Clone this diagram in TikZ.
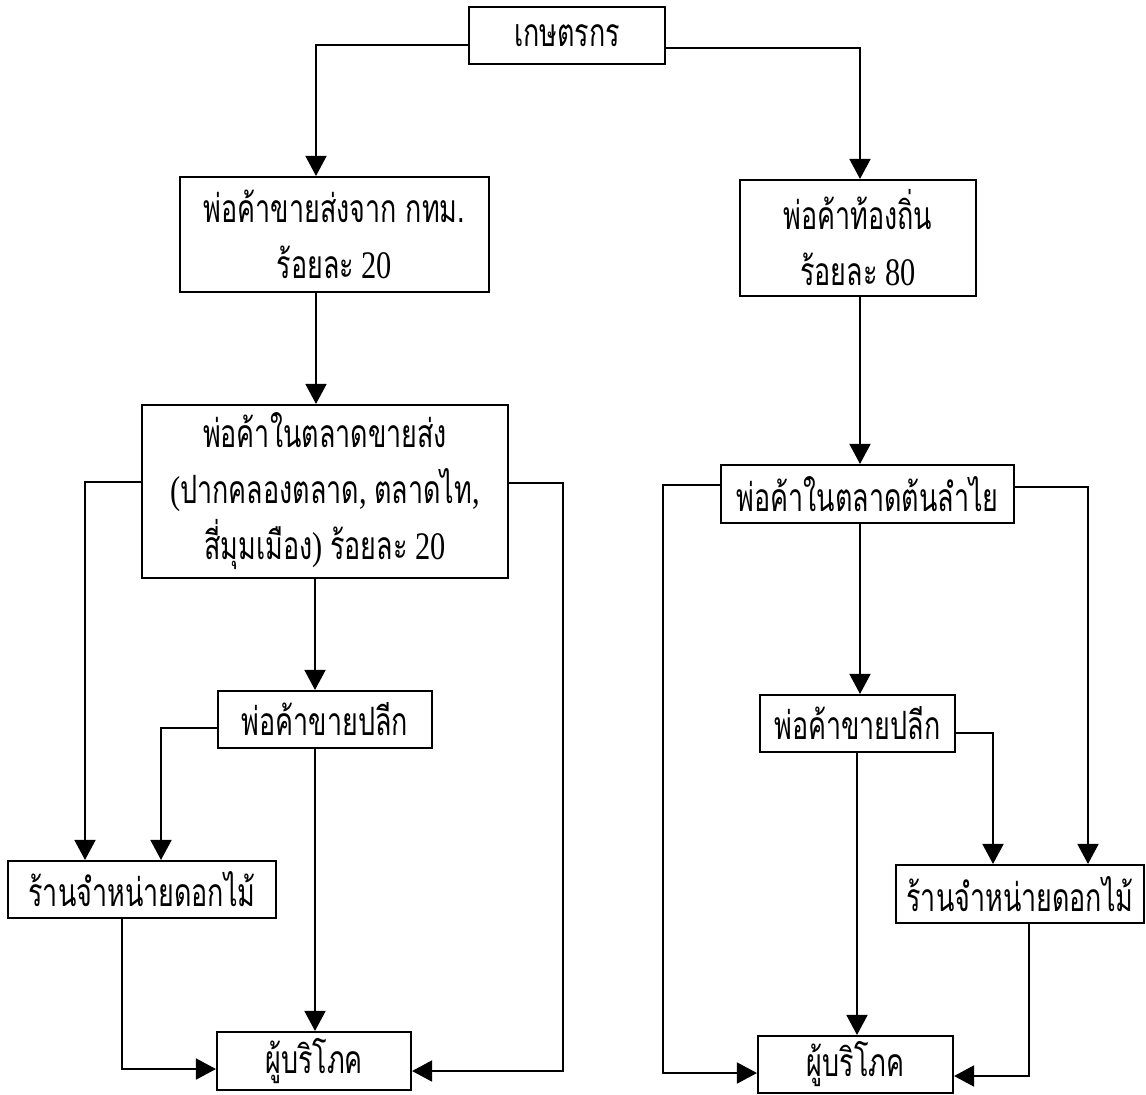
\documentclass[tikz,border=0pt]{standalone}
\usepackage{fontspec}
\setmainfont[FakeStretch=0.78]{Liberation Serif}
\newfontfamily\thai[Script=Thai,FakeStretch=0.69]{Loma}
\usetikzlibrary{arrows.meta}
\begin{document}
\begin{tikzpicture}[x=0.5pt,y=-0.5pt,
  box/.style={draw, line width=1.05pt, inner sep=0pt, align=center,
    font=\fontsize{19.5}{28}\selectfont},
  arr/.style={-{Triangle[length=10pt,width=10.5pt]}, line width=0.85pt}]
\fill[white] (0,0) rectangle (1146,1094);
\useasboundingbox (0,0) rectangle (1146,1094);

\node[box, minimum width=98pt, minimum height=28.5pt] (top) at (567,35.5) {\thai เกษตรกร};
\node[box, minimum width=154.5pt, minimum height=57.5pt] (A1) at (334.5,234.5) {{\thai พ่อค้าขายส่งจาก กทม.}\\{\thai ร้อยละ} 20};
\node[box, minimum width=118pt, minimum height=58pt] (B1) at (858,238) {{\thai พ่อค้าท้องถิ่น}\\{\thai ร้อยละ} 80};
\node[box, minimum width=183pt, minimum height=86.5pt] (A2) at (325,491.5) {{\thai พ่อค้าในตลาดขายส่ง}\\({\thai ปากคลองตลาด}, {\thai ตลาดไท},\\{\thai สี่มุมเมือง}) {\thai ร้อยละ} 20};
\node[box, minimum width=146.5pt, minimum height=29pt] (B2) at (867.5,494) {\thai พ่อค้าในตลาดต้นลำไย};
\node[box, minimum width=107pt, minimum height=28.5pt] (A3) at (325,719.5) {\thai พ่อค้าขายปลีก};
\node[box, minimum width=97.5pt, minimum height=28.5pt] (B3) at (857.5,723.5) {\thai พ่อค้าขายปลีก};
\node[box, minimum width=134pt, minimum height=28.5pt] (A4) at (142,889.5) {\thai ร้านจำหน่ายดอกไม้};
\node[box, minimum width=124pt, minimum height=29pt] (B4) at (1020,894) {\thai ร้านจำหน่ายดอกไม้};
\node[box, minimum width=97pt, minimum height=29pt] (A5) at (314,1061) {\thai ผู้บริโภค};
\node[box, minimum width=97.5pt, minimum height=28.5pt] (B5) at (855.5,1064.5) {\thai ผู้บริโภค};

% top level
\draw[arr] (top.west |- 0,45) -| (A1.north -| 316,0);
\draw[arr] (top.east |- 0,48) -| (B1.north -| 860,0);
\draw[arr] (A1.south -| 316,0) -- (A2.north -| 316,0);
\draw[arr] (B1.south -| 860,0) -- (B2.north -| 860,0);

% left branch
\draw[arr] (A2.south -| 315,0) -- (A3.north -| 315,0);
\draw[arr] (A2.west |- 0,482) -| (A4.north -| 85,0);
\coordinate (cA) at (563,1071);
\draw[arr] (A2.east |- 0,483) -| (cA) -- (A5.east |- cA);
\draw[arr] (A3.west |- 0,728) -| (A4.north -| 161,0);
\draw[arr] (A3.south -| 315,0) -- (A5.north -| 315,0);
\draw[arr] (A4.south -| 122,0) |- (A5.west |- 0,1069);

% right branch
\draw[arr] (B2.south -| 860,0) -- (B3.north -| 860,0);
\coordinate (cB) at (663,1073);
\draw[arr] (B2.west |- 0,485) -| (cB) -- (B5.west |- cB);
\draw[arr] (B2.east |- 0,487) -| (B4.north -| 1088,0);
\draw[arr] (B3.east |- 0,733) -| (B4.north -| 993,0);
\draw[arr] (B3.south -| 857,0) -- (B5.north -| 857,0);
\draw[arr] (B4.south -| 1029,0) |- (B5.east |- 0,1076);
\end{tikzpicture}
\end{document}
